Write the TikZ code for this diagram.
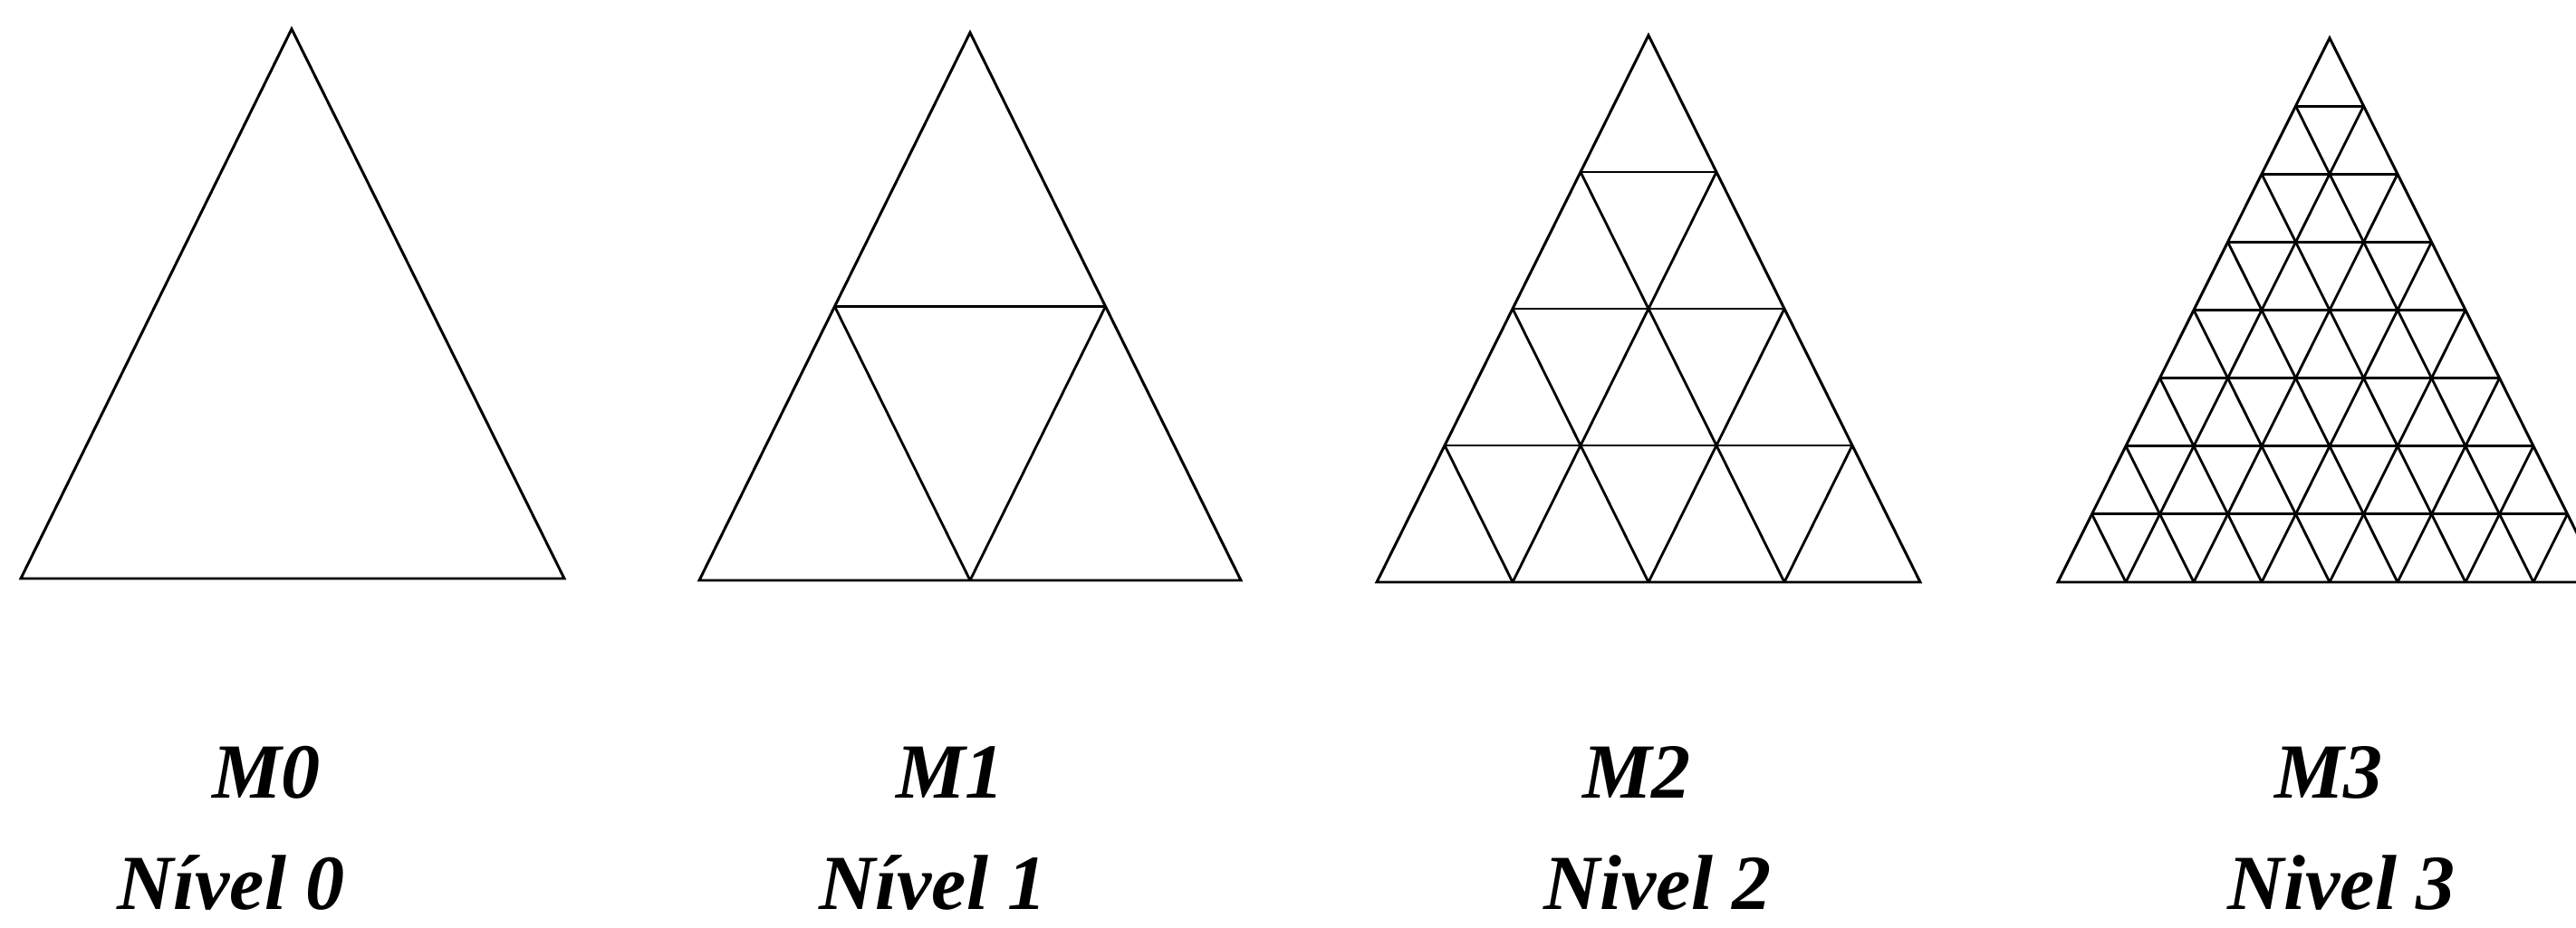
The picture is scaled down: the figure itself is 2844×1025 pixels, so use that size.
\documentclass[tikz,border=0pt]{standalone}
\usepackage{fontspec}
\setmainfont{Liberation Serif}
\usetikzlibrary{calc}
\tikzset{
  edge/.style={line width=0.85pt,line join=miter},
  mesh/.style={line width=0.8pt},
  lab/.style={font=\fontsize{24.5}{29}\selectfont\bfseries\itshape,anchor=base,inner sep=0},
}

\begin{document}
\begin{tikzpicture}[x=0.01cm,y=-0.01cm]
  \useasboundingbox (0,0) rectangle (2844,1025);
  \clip (0,0) rectangle (2844,1025);
  % (0) the bare triangle
  \coordinate (a0) at (322,32); \coordinate (l0) at (23,639); \coordinate (r0) at (623,639);
  \draw[edge] (a0) -- (l0) -- (r0) -- cycle;
  \node[lab] (m0) at (294,882) {M0};
  \node[lab] (n0) at (255,1005) {Nível 0};
  % (1) halved once
  \coordinate (a1) at (1071,36); \coordinate (l1) at (772,641); \coordinate (r1) at (1370,641);
  \draw[edge] (a1) -- (l1) -- (r1) -- cycle;
  \foreach \i in {1} {
    \draw[mesh] ($(a1)!\i/2!(l1)$) -- ($(a1)!\i/2!(r1)$);
    \draw[mesh] ($(l1)!\i/2!(r1)$) -- ($(r1)!{1-\i/2}!(a1)$);
    \draw[mesh] ($(l1)!\i/2!(r1)$) -- ($(l1)!\i/2!(a1)$);
  }
  \node[lab] (m1) at (1049,882) {M1};
  \node[lab] (n1) at (1030,1005) {Nível 1};
  % (2) four to a side
  \coordinate (a2) at (1820,39); \coordinate (l2) at (1520,643); \coordinate (r2) at (2120,643);
  \draw[edge] (a2) -- (l2) -- (r2) -- cycle;
  \foreach \i in {1,...,3} {
    \draw[mesh] ($(a2)!\i/4!(l2)$) -- ($(a2)!\i/4!(r2)$);
    \draw[mesh] ($(l2)!\i/4!(r2)$) -- ($(r2)!{1-\i/4}!(a2)$);
    \draw[mesh] ($(l2)!\i/4!(r2)$) -- ($(l2)!\i/4!(a2)$);
  }
  \node[lab] (m2) at (1807,882) {M2};
  \node[lab] (n2) at (1830,1005) {Nivel 2};
  % (3) eight to a side, runs off the right edge
  \coordinate (a3) at (2572,42); \coordinate (l3) at (2272,643); \coordinate (r3) at (2872,643);
  \draw[edge] (a3) -- (l3) -- (r3) -- cycle;
  \foreach \i in {1,...,7} {
    \draw[mesh] ($(a3)!\i/8!(l3)$) -- ($(a3)!\i/8!(r3)$);
    \draw[mesh] ($(l3)!\i/8!(r3)$) -- ($(r3)!{1-\i/8}!(a3)$);
    \draw[mesh] ($(l3)!\i/8!(r3)$) -- ($(l3)!\i/8!(a3)$);
  }
  \node[lab] (m3) at (2571,882) {M3};
  \node[lab] (n3) at (2585,1005) {Nivel 3};
\end{tikzpicture}
\end{document}
